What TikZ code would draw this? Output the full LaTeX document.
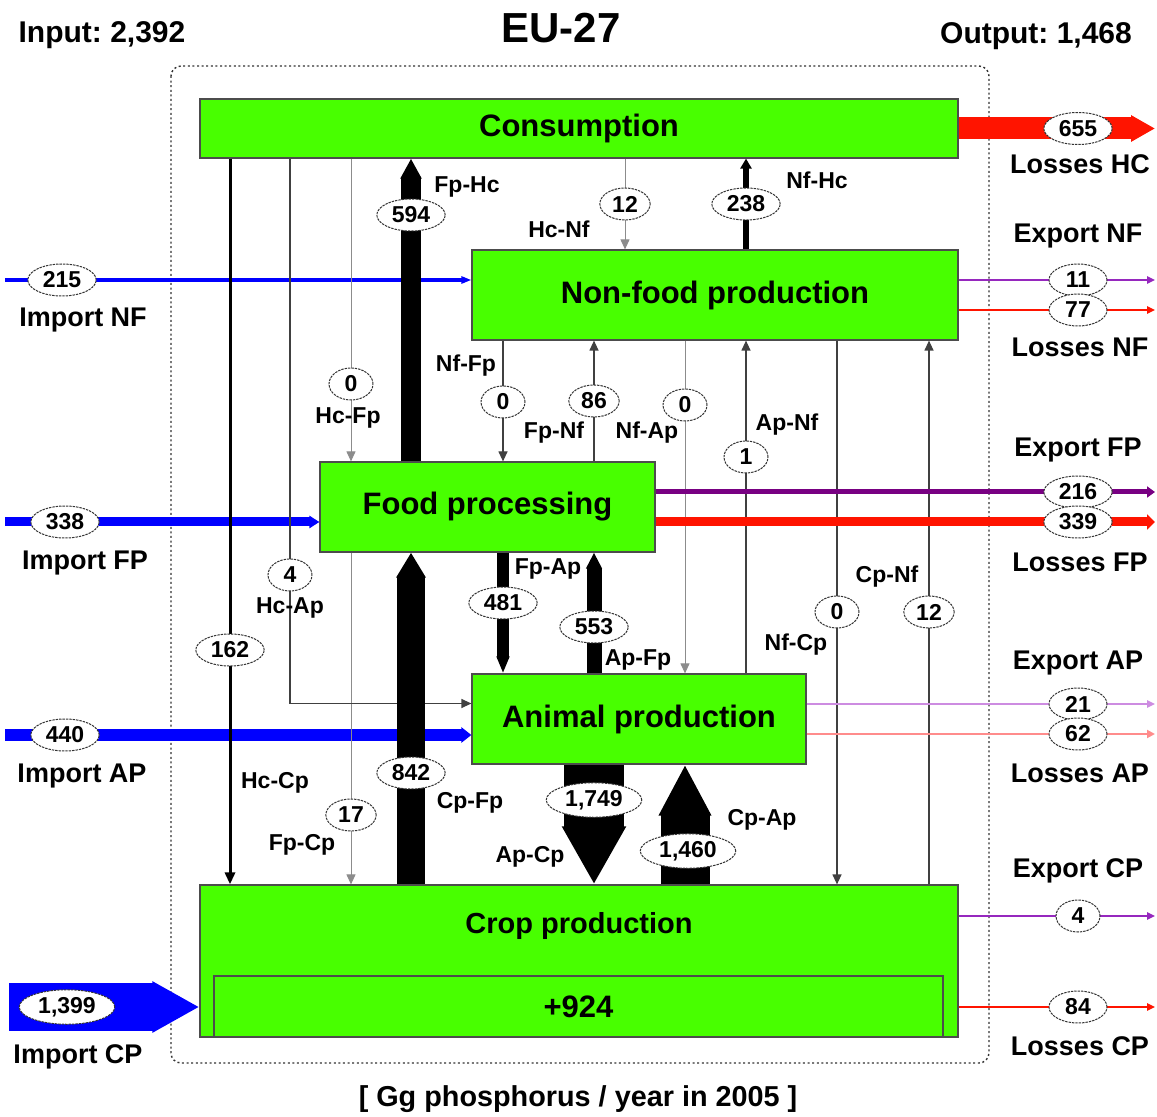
\documentclass[tikz,border=0pt]{standalone}
\usepackage{fontspec}
\setmainfont{Liberation Sans}
\usetikzlibrary{arrows.meta,shapes.geometric,calc}
\frenchspacing

\definecolor{boxgreen}{RGB}{72,255,0}
\definecolor{impblue}{RGB}{0,0,255}
\definecolor{lossred}{RGB}{255,20,0}
\definecolor{exppurple}{RGB}{150,40,190}
\definecolor{darkpurple}{RGB}{120,0,130}
\definecolor{palepurple}{RGB}{205,140,225}
\definecolor{palered}{RGB}{255,140,140}

\tikzset{
  sector/.style={draw=black!70,fill=boxgreen,line width=0.6pt,font=\fontsize{15.5}{18}\selectfont\bfseries},
  val/.style={ellipse,draw=black!80,dash pattern=on 1.2pt off 0.5pt,line width=0.5pt,fill=white,inner xsep=2.5pt,inner ysep=1.2pt,
    minimum width=22pt,minimum height=16pt,font=\fontsize{11.5}{13}\selectfont\bfseries},
  flowlbl/.style={font=\fontsize{11.5}{13}\selectfont\bfseries},
  sidelbl/.style={font=\fontsize{13.5}{16}\selectfont\bfseries},
  thinflow/.style={draw=black!75,line width=0.6pt,-{Triangle[width=4.5pt,length=5pt]}},
  faintflow/.style={draw=black!45,line width=0.5pt,-{Triangle[width=4.5pt,length=5pt]}},
  heavyflow/.style={draw=black,line width=1.5pt,-{Triangle[width=5pt,length=6pt]}},
  midflow/.style={draw=black,line width=3.2pt,-{Triangle[width=5.5pt,length=5pt]}},
  fatflow/.style 2 args={draw=black,line width=#1,line cap=butt,-{Triangle[width=0pt 1,length=#2]}},
  impflow/.style={draw=impblue,line width=#1,line cap=butt,-{Triangle[width=1.5pt 1,length=5pt]}},
  outflow/.style={line cap=butt,-{Triangle[width=3pt 1,length=4pt]}}
}

\begin{document}
\begin{tikzpicture}[x=0.5pt,y=-0.5pt]
  \useasboundingbox (0,0) rectangle (1157,1117);
  \draw[black!80,line width=0.7pt,dash pattern=on 1pt off 1.3pt,rounded corners=5pt] (171,66) rectangle (989,1063);

  \node[sector,minimum width=379pt,minimum height=29.5pt] (hc) at (579,128.5) {Consumption};
  \node[sector,minimum width=243pt,minimum height=45pt] (nf) at (715,295) {Non-food production};
  \node[sector,minimum width=167.5pt,minimum height=45pt] (fp) at (487.5,507) {Food processing};
  \node[sector,minimum width=167pt,minimum height=45pt] (ap) at (639,719) {Animal production};
  \node[sector,minimum width=379pt,minimum height=76pt] (cp) at (579,961) {};
  \node[sector,minimum width=364.5pt,minimum height=30.5pt] (bal) at (578.5,1006.5) {+924};
  \node[font=\fontsize{14.5}{17}\selectfont\bfseries] (cplbl) at (579,926) {Crop production};

  \foreach \n/\y/\b/\w in {nf/280/nf/2pt, fp/522/fp/4.5pt, ap/735/ap/6pt} {
    \coordinate (src\n) at (5,\y);
    \draw[impflow=\w] (src\n) -- (src\n -| \b.west);
  }
  \coordinate (srccp) at (9,1007);
  \draw[draw=impblue,line width=24pt,line cap=butt,-{Triangle[width=0pt 1,length=23.5pt]}] (srccp) -- (srccp -| cp.west);

  \foreach \n/\x/\a/\b/\s in {hccp/230/hc.south/cp.north/heavyflow, hcfp/351/hc.south/fp.north/faintflow,
      fpcp/351/fp.south/cp.north/faintflow, hcnf/625/hc.south/nf.north/faintflow, nfhc/746/nf.north/hc.south/midflow,
      nffp/503/nf.south/fp.north/thinflow, fpnf/594/fp.north/nf.south/thinflow, nfap/685/nf.south/ap.north/faintflow,
      apnf/746/ap.north/nf.south/thinflow, nfcp/837/nf.south/cp.north/thinflow, cpnf/929/cp.north/nf.south/thinflow} {
    \coordinate (x\n) at (\x,0);
    \draw[\s] (\a -| x\n) -- (\b -| x\n);
  }
  \coordinate (xhcap) at (290,0);
  \draw[thinflow] (hc.south -| xhcap) |- ($(ap.north west)!0.33!(ap.south west)$);

  \coordinate (xfphc) at (411,0);
  \coordinate (xcpfp) at (411,0);
  \coordinate (xfpap) at (503,0);
  \coordinate (xapfp) at (594,0);
  \coordinate (xapcp) at (594,0);
  \coordinate (xcpap) at (685,0);
  \draw[fatflow={10pt}{10pt}] (fp.north -| xfphc) -- (hc.south -| xfphc);
  \draw[fatflow={14pt}{12.5pt}] (cp.north -| xcpfp) -- (fp.south -| xcpfp);
  \draw[fatflow={6pt}{8.5pt}] (fp.south -| xfpap) -- (ap.north -| xfpap);
  \draw[fatflow={7.5pt}{8pt}] (ap.north -| xapfp) -- (fp.south -| xapfp);
  \draw[fatflow={30pt}{29pt}] (ap.south -| xapcp) -- (cp.north -| xapcp);
  \draw[fatflow={24.5pt}{25.5pt}] (cp.north -| xcpap) -- (ap.south -| xcpap);

  \coordinate (dsthc) at (1155,128.5);
  \draw[draw=lossred,line width=11pt,line cap=butt,-{Triangle[width=1.5pt 1,length=12pt]}] (hc.east) -- (dsthc);
  \foreach \n/\b/\y/\c/\w in {xnf/nf/280/exppurple/0.75pt, lnf/nf/310/lossred/0.75pt, xfp/fp/492/darkpurple/2.5pt,
      lfp/fp/522/lossred/4.5pt, xap/ap/704/palepurple/0.75pt, lap/ap/734/palered/1pt,
      xcp/cp/916/exppurple/0.75pt, lcp/cp/1007/lossred/0.75pt} {
    \coordinate (dst\n) at (1155,\y);
    \draw[outflow,draw=\c,line width=\w] (\b.east |- dst\n) -- (dst\n);
  }

  \foreach \n/\x/\y/\t in {hccp/230/650/162, hcap/290/575/4, hcfp/351/384/0, fpcp/351/815/17, fphc/411/215/594,
      cpfp/411/773/842, hcnf/625/204/12, nfhc/746/204/238, nffp/503/402/0, fpnf/594/401/86, nfap/685/405/0,
      apnf/746/457/1, nfcp/837/612/0, cpnf/929/612/12, fpap/503/603/481, apfp/594/627/553,
      apcp/594/800/{1,749}, cpap/688/851/{1,460}, inf/62/280/215, ifp/65/522/338, iap/65/735/440, icp/67/1007/{1,399},
      xcp/1078/916/4} {
    \node[val] (v\n) at (\x,\y) {\t};
  }
  \foreach \n/\y/\t in {lhc/128.5/655, xnf/280/11, lnf/310/77, xfp/492/216, lfp/522/339,
      xap/704/21, lap/734/62, lcp/1007/84} {
    \node[val,minimum width=29pt] (v\n) at (1078,\y) {\t};
  }

  \foreach \n/\x/\y/\t in {hccp/275/783/Hc-Cp, hcap/290/608/Hc-Ap, hcfp/348/418/Hc-Fp, fpcp/302/845/Fp-Cp,
      fphc/467/187/Fp-Hc, cpfp/470/803/Cp-Fp, hcnf/559/229/Hc-Nf, nfhc/817/180/Nf-Hc, nffp/466/366/Nf-Fp,
      fpnf/554/433/Fp-Nf, nfap/647/433/Nf-Ap, apnf/787/425/Ap-Nf, nfcp/796/645/Nf-Cp, cpnf/887/577/Cp-Nf,
      fpap/548/569/Fp-Ap, apfp/638/660/Ap-Fp, apcp/530/857/Ap-Cp, cpap/762/820/Cp-Ap} {
    \node[flowlbl] (t\n) at (\x,\y) {\t};
  }
  \foreach \n/\x/\y/\t in {lhc/1080/164/Losses HC, xnf/1078/236/Export NF, lnf/1080/347/Losses NF,
      xfp/1078/450/Export FP, lfp/1080/562/Losses FP, xap/1078/663/Export AP, lap/1080/773/Losses AP,
      xcp/1078/871/Export CP, lcp/1080/1046/Losses CP, inf/83/320/Import NF, ifp/85/563/Import FP,
      iap/82/776/Import AP, icp/78/1057/Import CP} {
    \node[sidelbl] (s\n) at (\x,\y) {\t};
  }

  \node[font=\fontsize{21}{24}\selectfont\bfseries] (title) at (561,28) {EU-27};
  \node[font=\fontsize{15}{18}\selectfont\bfseries] (input) at (102,35) {Input: 2,392};
  \node[font=\fontsize{15}{18}\selectfont\bfseries] (output) at (1036,36) {Output: 1,468};
  \node[font=\fontsize{14.4}{17}\selectfont\bfseries] (unit) at (578,1099) {[ Gg phosphorus / year in 2005 ]};
\end{tikzpicture}
\end{document}
